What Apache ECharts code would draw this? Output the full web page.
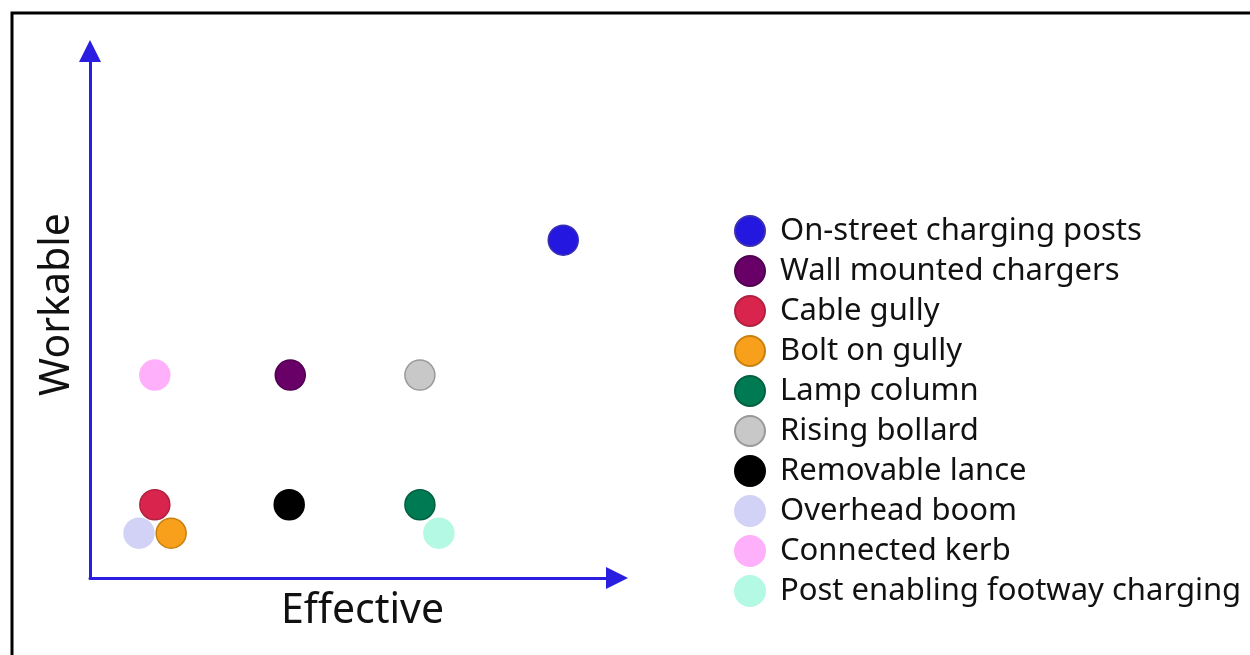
<!DOCTYPE html>
<html>
<head>
<meta charset="utf-8">
<title>Workable vs Effective</title>
<script src="https://cdn.jsdelivr.net/npm/echarts@6/dist/echarts.min.js"></script>
<style>
  html, body { margin: 0; padding: 0; background: #fff; }
  #main { width: 1250px; height: 655px; }
</style>
</head>
<body>
<div id="main"></div>
<script>
// 数据
var names = ['On-street charging posts', 'Wall mounted chargers', 'Cable gully', 'Bolt on gully',
  'Lamp column', 'Rising bollard', 'Removable lance', 'Overhead boom', 'Connected kerb',
  'Post enabling footway charging'];
var effective = [8.98, 3.80, 1.23, 1.54, 6.26, 6.26, 3.78, 0.93, 1.23, 6.62];
var workable = [6.41, 3.85, 1.39, 0.85, 1.39, 3.85, 1.39, 0.85, 3.85, 0.85];
var colors = ['#2317e0', '#680068', '#d9254e', '#f8a01c', '#007a52', '#c8c8c8', '#000000',
  '#d2d2f7', '#ffb0fb', '#b4f9e3'];
var borders = ['#3a30b0', '#500050', '#b0203f', '#c88010', '#006040', '#999999', '#000000',
  '#d2d2f7', '#ffb0fb', '#b4f9e3'];

(function () {
  var myChart = echarts.init(document.getElementById('main'));
  var font = 'Noto Sans';
  var axisColor = '#2a1ee0';

  var series = names.map(function (n, i) {
    return {
      name: n,
      type: 'scatter',
      symbol: 'circle',
      symbolSize: 30,
      data: [[effective[i], workable[i]]],
      itemStyle: {
        color: colors[i],
        borderColor: borders[i],
        borderWidth: 1.5,
        opacity: 1
      }
    };
  });

  // 坐标轴公共样式
  function axisStyle(name, gap, pad) {
    return {
      type: 'value',
      min: 0,
      max: 10,
      name: name,
      nameLocation: 'middle',
      nameGap: gap,
      nameTextStyle: { fontFamily: font, fontSize: 41, color: '#111', padding: [0, 0, 0, pad] },
      axisLine: {
        show: true,
        symbol: ['none', 'triangle'],
        symbolSize: [22, 22],
        lineStyle: { color: axisColor, width: 3 }
      },
      axisTick: { show: false },
      axisLabel: { show: false },
      splitLine: { show: false }
    };
  }

  var option = {
    animation: false,
    backgroundColor: '#fff',
    grid: {
      left: 90,
      right: 633,
      top: 51,
      bottom: 77
    },
    legend: {
      orient: 'vertical',
      left: 729,
      top: 210,
      itemWidth: 30,
      itemHeight: 30,
      itemGap: 8,
      icon: 'circle',
      data: names,
      textStyle: {
        fontFamily: font,
        fontSize: 31,
        color: '#111',
        padding: [0, 0, 0, 10]
      }
    },
    xAxis: axisStyle('Effective', 13, 18),
    yAxis: axisStyle('Workable', 12, 20),
    // 外框
    graphic: [{
      type: 'rect',
      shape: { x: 12, y: 13, width: 1400, height: 800 },
      style: { fill: 'none', stroke: '#000', lineWidth: 3 },
      silent: true
    }],
    series: series
  };
  myChart.setOption(option);
  window.addEventListener('resize', function () {
    myChart.resize();
  });
})();
</script>
</body>
</html>
